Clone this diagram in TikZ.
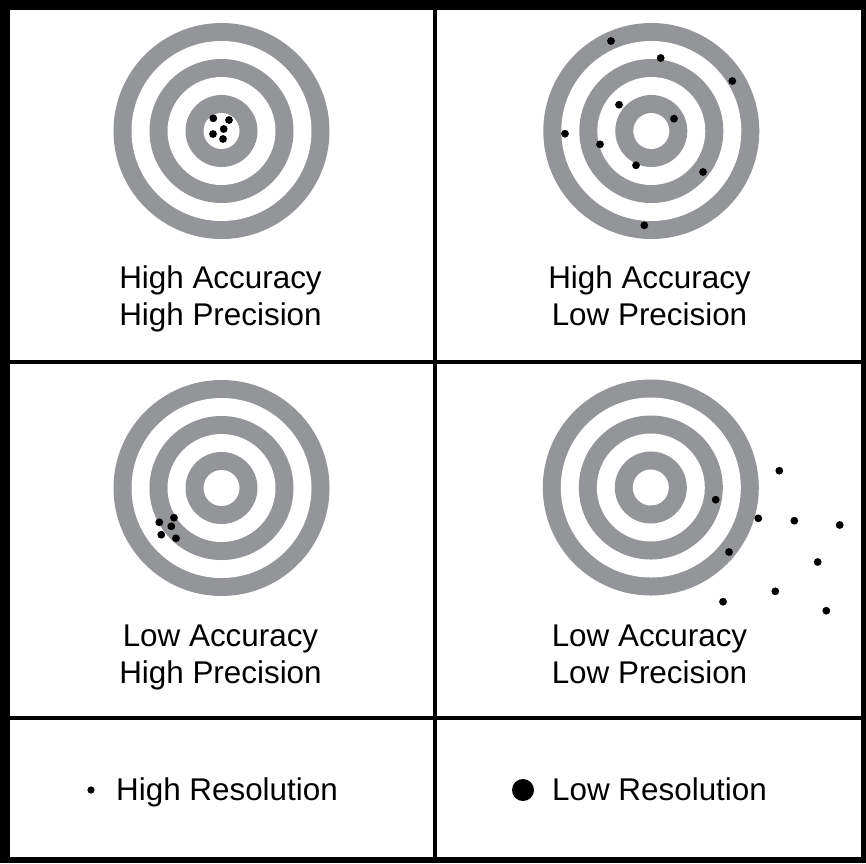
\documentclass[tikz,border=0pt]{standalone}
\usepackage{fontspec}
\setmainfont{Liberation Sans}
\definecolor{ringgray}{RGB}{147,149,152}

\begin{document}
\begin{tikzpicture}[x=1pt, y=-1pt,
    ring/.style={fill=ringgray},
    hole/.style={fill=white},
    caption/.style={font=\fontsize{31.4}{36}\selectfont, anchor=base, inner sep=0pt},
    legend/.style={caption, anchor=base west}]
    \useasboundingbox (0,0) rectangle (866,863);

    % frame and grid lines
    \fill[black] (0,0) rectangle (866,863);
    \fill[white] (9.5,9.5) rectangle (861.3,857.3);
    \draw[line width=4.3pt] (435.3,9.5) -- (435.3,857.3);
    \draw[line width=4.3pt] (9.5,361.7) -- (861.3,361.7);
    \draw[line width=4.3pt] (9.5,718) -- (861.3,718);

    % target centres
    \coordinate (tl) at (221.5,131);
    \coordinate (tr) at (651.3,131);
    \coordinate (bl) at (221.5,488);
    \coordinate (br) at (650.8,487.5);

    \foreach \c in {tl,tr,bl,br} {
        \fill[ring] (\c) circle (108pt);
        \fill[hole] (\c) circle (90pt);
        \fill[ring] (\c) circle (72pt);
        \fill[hole] (\c) circle (54pt);
        \fill[ring] (\c) circle (36pt);
        \fill[hole] (\c) circle (18pt);
    }

    % shots
    \foreach \x/\y in {213.3/118.3, 229/120, 223.7/129, 213/134, 223/139}
        \fill (\x,\y) circle (3.9pt);
    \foreach \x/\y in {611/41, 660.7/58, 732.3/81, 619/104.7, 674/118.7,
                       565/133.7, 600/144.3, 636/165.3, 703/172, 644.3/225.3}
        \fill (\x,\y) circle (3.9pt);
    \foreach \x/\y in {159.3/522.3, 174/517.7, 171.3/526.3, 161.3/534.7, 176/538.3}
        \fill (\x,\y) circle (3.9pt);
    \foreach \x/\y in {779.3/470.7, 715.7/499.7, 758.3/518.3, 794.3/520.7, 839.7/525,
                       729/552, 817.7/562, 775.3/591.3, 723/601.7, 826.3/610.7}
        \fill (\x,\y) circle (3.9pt);

    % captions
    \node[caption] (tlacc) at (220.5,288) {High Accuracy};
    \node[caption] (tlprec) at (220.5,325) {High Precision};
    \node[caption] (tracc) at (649.5,288) {High Accuracy};
    \node[caption] (trprec) at (649.5,325) {Low Precision};
    \node[caption] (blacc) at (220.5,646) {Low Accuracy};
    \node[caption] (blprec) at (220.5,683) {High Precision};
    \node[caption] (bracc) at (649.5,646) {Low Accuracy};
    \node[caption] (brprec) at (649.5,683) {Low Precision};

    % legend
    \fill (91,790) circle (3.6pt);
    \node[legend] (highres) at (116,800.5) {High Resolution};
    \fill (523,790) circle (11pt);
    \node[legend] (lowres) at (552,800.5) {Low Resolution};
\end{tikzpicture}
\end{document}
